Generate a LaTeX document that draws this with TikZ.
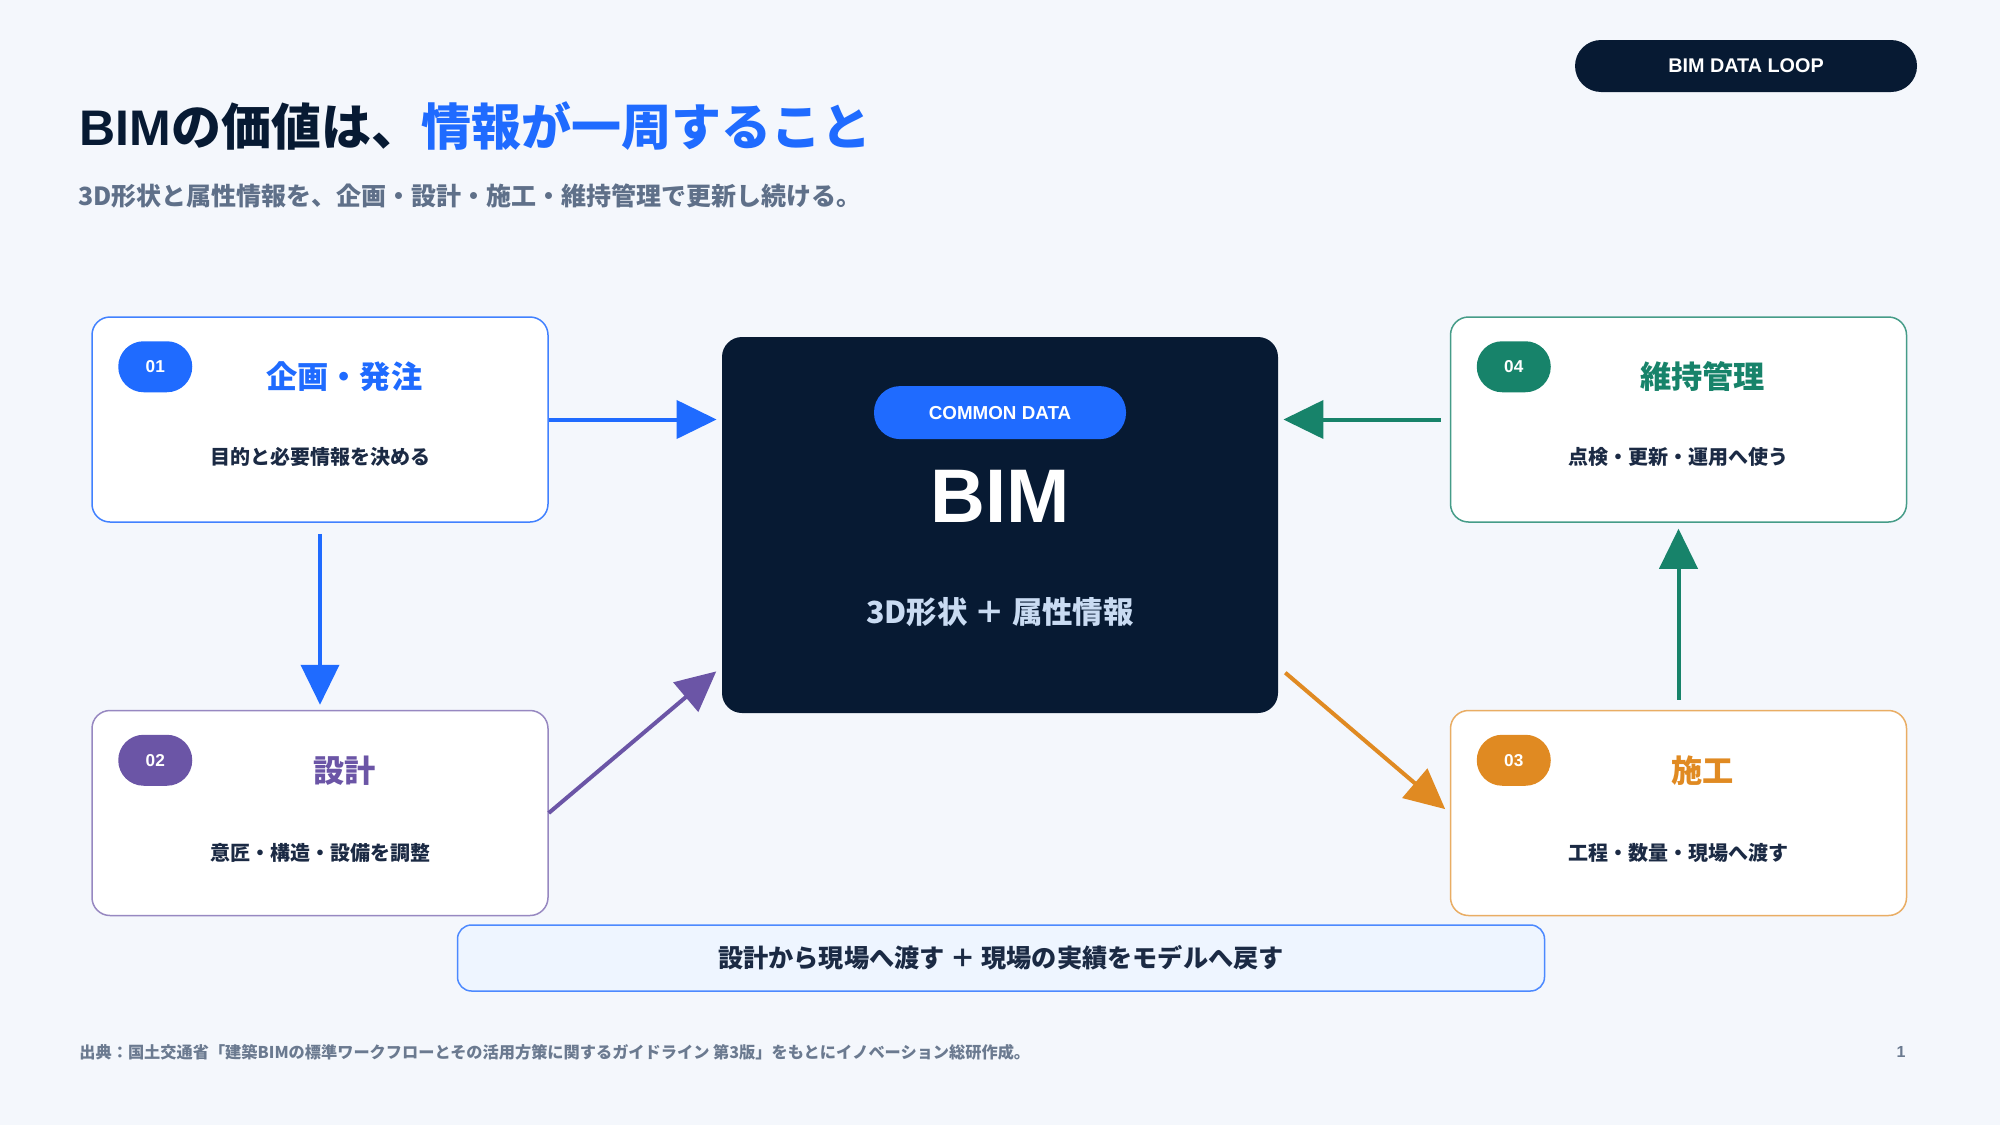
\documentclass[tikz,border=0pt]{standalone}
\usepackage{fontspec}
\setmainfont{Noto Sans CJK JP}
\newfontfamily\hv{Liberation Sans}
\usetikzlibrary{positioning,calc,arrows.meta}
\definecolor{pagebg}{HTML}{F4F7FC}
\definecolor{navy}{HTML}{071A33}
\definecolor{planblue}{HTML}{1F6BFF}
\definecolor{designpurple}{HTML}{6B55A6}
\definecolor{buildorange}{HTML}{E08A22}
\definecolor{keepgreen}{HTML}{17836A}
\definecolor{inktext}{HTML}{1B2A44}
\definecolor{subgray}{HTML}{5F7089}
\definecolor{softblue}{HTML}{C9DBF2}
\definecolor{notefill}{HTML}{EEF5FF}
\definecolor{footgray}{HTML}{6B7A90}

\begin{document}
\begin{tikzpicture}[x=0.5pt, y=-0.5pt,
    loop card/.style={rectangle, draw, line width=0.75pt, rounded corners=9pt, fill=white, minimum width=228pt, minimum height=102.5pt, inner sep=0pt},
    loop badge/.style={rectangle, rounded corners=12.7pt, minimum width=37pt, minimum height=25.5pt, inner sep=0pt, text=white, font=\hv\bfseries\fontsize{8.6}{9}\selectfont},
    loop head/.style={font=\bfseries\fontsize{15.6}{18}\selectfont},
    loop text/.style={text=inktext, font=\bfseries\fontsize{10}{12}\selectfont},
    loop pill/.style={rectangle, rounded corners=13pt, minimum height=26pt, inner sep=0pt, text=white, font=\hv\bfseries\fontsize{9.4}{11}\selectfont},
    loop arrow/.style={-{Triangle[length=20pt,width=19pt]}, line width=2pt}]

    \fill[pagebg] (0,0) rectangle (2000,1125);
    \useasboundingbox (0,0) rectangle (2000,1125);

    \node [anchor=west, inner sep=0pt, text=navy, font=\bfseries\fontsize{25}{28}\selectfont] (title) at (79,126) {{\hv BIM}の価値は、\textcolor{planblue}{情報が一周すること}};
    \node [anchor=west, inner sep=0pt, text=subgray, font=\bfseries\fontsize{12.5}{14}\selectfont] (subtitle) at (78,196) {3D形状と属性情報を、企画・設計・施工・維持管理で更新し続ける。};
    \node [loop pill, fill=navy, minimum width=171pt, font=\hv\bfseries\fontsize{9.9}{11}\selectfont] (tag) at (1746,66) {\raisebox{-1pt}{BIM DATA LOOP}};

    \node [loop card, draw=planblue!85] (plan) at (320,419.5) {};
    \node [loop card, draw=designpurple!70, below=93.5pt of plan] (design) {};
    \node [loop card, draw=keepgreen!80, right=450.5pt of plan] (keep) {};
    \node [loop card, draw=buildorange!70, below=93.5pt of keep] (build) {};

    \node [rectangle, fill=navy, rounded corners=10pt, minimum width=278pt, minimum height=188pt] (bim) at (1000,525) {};
    \node [loop pill, fill=planblue, minimum width=126pt, minimum height=26.5pt] (common) at ($(bim.north)+(0,76)$) {\raisebox{-1.8pt}{COMMON DATA}};
    \node [text=white, font=\hv\bfseries\fontsize{38}{40}\selectfont] (bimname) at ($(bim.north)+(0,160)$) {BIM};
    \node [text=softblue, font=\bfseries\fontsize{15.2}{17}\selectfont] (bimdata) at ($(bim.north)+(0,275)$) {3D形状 ＋ 属性情報};

    \node [loop badge, fill=planblue] (planno) at ($(plan.north west)+(64,50.5)$) {\raisebox{-1pt}{01}};
    \node [loop head, text=planblue] (planhead) at ($(plan.north west)+(253,60)$) {企画・発注};
    \node [loop text] (plantext) at ($(plan.north)+(0,141)$) {目的と必要情報を決める};

    \node [loop badge, fill=designpurple] (designno) at ($(design.north west)+(64,50.5)$) {\raisebox{-1pt}{02}};
    \node [loop head, text=designpurple] (designhead) at ($(design.north west)+(253,61)$) {設計};
    \node [loop text] (designtext) at ($(design.north)+(0,143)$) {意匠・構造・設備を調整};

    \node [loop badge, fill=buildorange] (buildno) at ($(build.north west)+(64,50.5)$) {\raisebox{-1pt}{03}};
    \node [loop head, text=buildorange] (buildhead) at ($(build.north west)+(253,61)$) {施工};
    \node [loop text] (buildtext) at ($(build.north)+(0,143)$) {工程・数量・現場へ渡す};

    \node [loop badge, fill=keepgreen] (keepno) at ($(keep.north west)+(64,50.5)$) {\raisebox{-1pt}{04}};
    \node [loop head, text=keepgreen] (keephead) at ($(keep.north west)+(253,60)$) {維持管理};
    \node [loop text] (keeptext) at ($(keep.north)+(0,141)$) {点検・更新・運用へ使う};

    \draw [loop arrow, planblue, shorten >=2.5pt] (plan.east) -- (bim.west |- plan.east);
    \draw [loop arrow, planblue, shorten <=5.5pt, shorten >=2.5pt] (plan.south) -- (design.north);
    \draw [loop arrow, designpurple, shorten >=3.5pt] (design.east) -- (bim.207);
    \draw [loop arrow, buildorange, shorten <=4.5pt, shorten >=3pt] (bim.333) -- (build.west);
    \draw [loop arrow, keepgreen, shorten <=5pt, shorten >=3pt] (build.north) -- (keep.south);
    \draw [loop arrow, keepgreen, shorten <=4.5pt, shorten >=2.5pt] (keep.west) -- (bim.east |- keep.west);

    \node [rectangle, draw=planblue!80, line width=0.75pt, fill=notefill, rounded corners=7pt, minimum width=543.5pt, minimum height=33pt, text=inktext, font=\bfseries\fontsize{12.6}{14}\selectfont] (note) at (1001,958) {設計から現場へ渡す ＋ 現場の実績をモデルへ戻す};

    \node [anchor=west, inner sep=0pt, text=footgray, font=\bfseries\fontsize{8.1}{10}\selectfont] (source) at (79,1052) {出典：国土交通省「建築BIMの標準ワークフローとその活用方策に関するガイドライン 第3版」をもとにイノベーション総研作成。};
    \node [text=footgray, font=\hv\bfseries\fontsize{8}{10}\selectfont] (pageno) at (1901,1052) {1};

\end{tikzpicture}
\end{document}
